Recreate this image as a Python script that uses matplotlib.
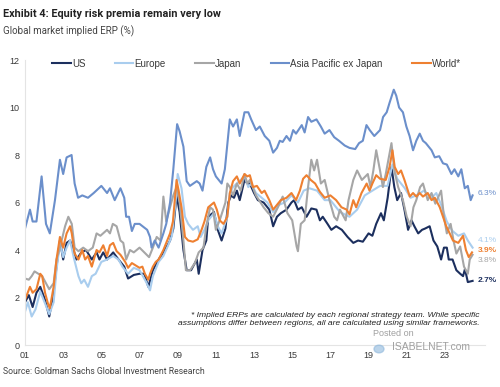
import matplotlib.pyplot as plt
from matplotlib.lines import Line2D

# Series: decimal year and implied ERP (%)
us_t = [2001.0, 2001.2, 2001.4, 2001.6, 2001.8, 2002.05, 2002.27, 2002.5, 2002.65, 2002.83,
        2003.0, 2003.18, 2003.36, 2003.5, 2003.7, 2003.95, 2004.2, 2004.5, 2004.75, 2004.9,
        2005.1, 2005.3, 2005.62, 2005.9, 2006.2, 2006.4, 2006.7, 2007.0, 2007.25, 2007.46,
        2007.7, 2008.0, 2008.25, 2008.4, 2008.6, 2008.77, 2008.94, 2009.1, 2009.3, 2009.47,
        2009.7, 2010.0, 2010.1, 2010.3, 2010.5, 2010.6, 2010.9, 2011.1, 2011.3, 2011.5,
        2011.65, 2011.8, 2011.95, 2012.1, 2012.25, 2012.5, 2012.65, 2012.78, 2013.0, 2013.2,
        2013.5, 2013.8, 2014.0, 2014.2, 2014.4, 2014.7, 2014.96, 2015.1, 2015.3, 2015.5,
        2015.75, 2016.0, 2016.27, 2016.45, 2016.6, 2016.85, 2017.05, 2017.3, 2017.6, 2017.9,
        2018.2, 2018.45, 2018.7, 2019.0, 2019.2, 2019.4, 2019.65, 2019.8, 2020.0, 2020.2,
        2020.35, 2020.5, 2020.7, 2020.88, 2021.07, 2021.25, 2021.4, 2021.6, 2021.8, 2021.95,
        2022.2, 2022.4, 2022.6, 2022.8, 2022.95, 2023.1, 2023.2, 2023.4, 2023.6, 2023.8,
        2023.95, 2024.05, 2024.2, 2024.45]
us_v = [1.8, 2.1, 1.6, 2.2, 2.45, 1.9, 1.2, 2.2, 3.3, 4.4,
        3.6, 4.3, 4.4, 4.1, 3.6, 3.9, 4.0, 3.6, 3.9, 3.6,
        3.9, 3.6, 3.9, 3.6, 3.3, 2.8, 2.95, 3.0, 3.0, 2.45,
        3.15, 3.6, 3.9, 4.1, 4.4, 4.9, 6.3, 5.6, 4.0, 3.15,
        3.15, 3.6, 3.0, 4.0, 4.4, 5.4, 5.6, 4.85, 4.4, 4.9,
        6.0, 6.3, 6.2, 6.5, 6.1, 6.95, 6.8, 6.8, 6.4, 6.1,
        6.0, 5.7, 5.0, 5.4, 5.55, 5.7, 6.0, 6.1, 5.7, 5.8,
        5.4, 5.75, 5.7, 5.25, 5.4, 5.1, 4.85, 5.0, 4.85, 4.55,
        4.3, 4.4, 4.35, 4.7, 4.6, 5.1, 5.55, 5.25, 6.2, 7.5,
        6.65, 6.1, 6.4, 5.7, 4.85, 5.25, 5.0, 4.7, 4.85, 4.9,
        5.0, 4.4, 4.15, 3.6, 4.1, 4.1, 3.6, 3.6, 3.15, 3.0,
        2.9, 3.2, 2.65, 2.7]

europe_t = [2001.0, 2001.15, 2001.35, 2001.55, 2001.8, 2002.05, 2002.27, 2002.5, 2002.65, 2002.83,
            2003.0, 2003.18, 2003.36, 2003.55, 2003.8, 2003.95, 2004.1, 2004.3, 2004.5, 2004.7,
            2005.0, 2005.3, 2005.62, 2005.9, 2006.1, 2006.4, 2006.7, 2007.0, 2007.35, 2007.55,
            2007.7, 2008.0, 2008.25, 2008.5, 2008.7, 2008.9, 2009.0, 2009.2, 2009.38, 2009.55,
            2009.8, 2010.05, 2010.2, 2010.4, 2010.6, 2010.9, 2011.1, 2011.3, 2011.6, 2011.73,
            2011.9, 2012.1, 2012.5, 2012.7, 2012.85, 2013.1, 2013.4, 2013.7, 2014.0, 2014.3,
            2014.6, 2014.96, 2015.3, 2015.6, 2015.9, 2016.3, 2016.7, 2017.0, 2017.5, 2018.0,
            2018.4, 2018.8, 2019.2, 2019.6, 2020.0, 2020.25, 2020.5, 2020.9, 2021.2, 2021.5,
            2021.9, 2022.3, 2022.55, 2022.8, 2023.1, 2023.4, 2023.7, 2024.0, 2024.2, 2024.45]
europe_v = [1.4, 1.8, 1.2, 1.5, 2.25, 1.75, 1.3, 1.8, 3.15, 4.3,
            3.7, 4.1, 4.4, 3.7, 2.9, 2.6, 2.75, 2.45, 2.9, 3.0,
            3.5, 3.6, 3.75, 3.6, 3.3, 3.0, 3.25, 3.15, 2.65, 2.3,
            2.9, 3.5, 3.75, 4.2, 4.6, 6.1, 7.2, 6.6, 5.4, 5.1,
            4.85, 5.0, 4.55, 4.85, 5.25, 5.55, 5.0, 4.7, 5.4, 6.4,
            6.65, 6.8, 7.1, 6.65, 6.8, 6.4, 6.2, 6.0, 5.6, 5.9,
            6.0, 6.3, 6.0, 6.5, 6.6, 6.5, 6.1, 6.1, 5.6, 5.4,
            5.7, 6.3, 6.5, 6.7, 6.7, 7.6, 7.0, 6.6, 6.2, 6.3,
            6.5, 6.2, 6.4, 5.9, 5.2, 4.8, 4.6, 4.7, 4.4, 4.1]

japan_t = [2001.0, 2001.2, 2001.35, 2001.5, 2001.7, 2001.9, 2002.1, 2002.27, 2002.5, 2002.65,
           2002.83, 2003.1, 2003.27, 2003.45, 2003.6, 2003.8, 2004.05, 2004.3, 2004.55, 2004.75,
           2004.95, 2005.3, 2005.45, 2005.6, 2005.8, 2006.0, 2006.15, 2006.3, 2006.5, 2006.7,
           2007.0, 2007.25, 2007.5, 2007.7, 2007.9, 2008.1, 2008.25, 2008.4, 2008.6, 2008.77,
           2008.94, 2009.1, 2009.3, 2009.43, 2009.65, 2009.9, 2010.1, 2010.35, 2010.5, 2010.7,
           2010.85, 2011.0, 2011.2, 2011.5, 2011.6, 2011.73, 2011.9, 2012.1, 2012.3, 2012.5,
           2012.65, 2012.78, 2013.1, 2013.5, 2013.75, 2014.0, 2014.25, 2014.5, 2014.75, 2015.0,
           2015.23, 2015.3, 2015.45, 2015.65, 2015.83, 2016.0, 2016.15, 2016.3, 2016.5, 2016.7,
           2016.95, 2017.2, 2017.35, 2017.5, 2017.8, 2017.95, 2018.2, 2018.4, 2018.65, 2018.96,
           2019.1, 2019.25, 2019.4, 2019.6, 2019.75, 2019.9, 2020.2, 2020.35, 2020.55, 2020.8,
           2021.0, 2021.2, 2021.35, 2021.5, 2021.7, 2021.85, 2022.1, 2022.3, 2022.5, 2022.8,
           2022.95, 2023.1, 2023.3, 2023.45, 2023.6, 2023.8, 2024.0, 2024.2, 2024.3, 2024.45]
japan_v = [2.8, 2.75, 2.9, 3.1, 3.0, 2.9, 2.6, 2.35, 2.6, 3.6,
           4.1, 5.0, 5.4, 5.1, 4.1, 3.95, 4.1, 3.95, 4.1, 4.7,
           4.6, 4.85, 4.7, 5.1, 5.0, 4.4, 4.3, 3.6, 4.0, 3.9,
           4.1, 3.9, 3.7, 4.1, 4.55, 4.4, 6.25, 5.2, 5.8, 6.3,
           6.65, 6.0, 4.4, 3.15, 3.15, 3.45, 3.9, 4.1, 5.0, 5.8,
           5.7, 4.85, 5.25, 6.0, 6.8, 6.65, 6.3, 6.8, 6.5, 7.2,
           6.8, 6.95, 6.3, 5.8, 5.55, 5.4, 5.8, 6.25, 5.55, 5.25,
           4.15, 3.95, 5.1, 5.25, 6.65, 7.8, 7.35, 7.8, 6.8, 6.95,
           6.1, 5.4, 5.25, 5.7, 5.25, 6.1, 6.95, 7.35, 6.95, 7.2,
           6.65, 7.35, 8.2, 7.35, 6.65, 7.2, 8.5, 7.35, 6.65, 6.1,
           5.4, 5.0, 5.8, 6.1, 6.65, 6.8, 6.1, 6.4, 5.95, 6.5,
           5.4, 4.7, 5.1, 4.4, 3.85, 4.15, 3.3, 3.0, 3.6, 3.8]

apxj_t = [2001.0, 2001.26, 2001.4, 2001.6, 2001.87, 2002.1, 2002.3, 2002.57, 2002.83, 2003.0,
          2003.18, 2003.44, 2003.6, 2003.78, 2004.0, 2004.3, 2004.6, 2005.0, 2005.3, 2005.45,
          2005.7, 2006.0, 2006.2, 2006.3, 2006.45, 2006.6, 2006.75, 2007.0, 2007.4, 2007.55,
          2007.63, 2007.8, 2008.0, 2008.25, 2008.4, 2008.6, 2008.77, 2008.97, 2009.1, 2009.3,
          2009.47, 2009.64, 2010.0, 2010.15, 2010.3, 2010.5, 2010.7, 2010.85, 2011.0, 2011.3,
          2011.47, 2011.73, 2011.9, 2012.1, 2012.25, 2012.5, 2012.7, 2012.85, 2013.1, 2013.3,
          2013.56, 2013.8, 2014.0, 2014.2, 2014.35, 2014.5, 2014.7, 2014.88, 2015.05, 2015.2,
          2015.5, 2015.65, 2015.83, 2016.0, 2016.27, 2016.5, 2016.7, 2016.95, 2017.2, 2017.45,
          2017.75, 2018.0, 2018.3, 2018.5, 2018.7, 2018.89, 2019.06, 2019.3, 2019.6, 2019.76,
          2019.95, 2020.1, 2020.32, 2020.45, 2020.6, 2020.8, 2020.98, 2021.15, 2021.33, 2021.5,
          2021.68, 2021.85, 2022.0, 2022.3, 2022.47, 2022.7, 2022.9, 2023.1, 2023.34, 2023.5,
          2023.7, 2023.86, 2024.04, 2024.2, 2024.35, 2024.45]
apxj_v = [4.9, 5.7, 5.2, 5.2, 7.1, 5.1, 4.7, 6.1, 7.8, 7.2,
          7.9, 8.0, 6.8, 6.2, 6.3, 6.2, 6.4, 6.7, 6.4, 6.6,
          6.1, 6.6, 6.2, 5.4, 5.4, 4.8, 5.1, 5.1, 4.85, 4.55,
          4.1, 4.4, 4.1, 4.7, 5.1, 6.0, 7.4, 9.3, 9.0, 8.35,
          6.9, 6.7, 6.9, 6.8, 6.5, 7.5, 7.9, 7.4, 7.1, 6.8,
          7.4, 9.5, 9.2, 9.5, 8.8, 9.8, 9.8, 9.5, 9.05, 9.2,
          8.8, 8.6, 8.1, 8.3, 8.6, 8.55, 8.8, 8.6, 9.05, 8.9,
          9.26, 8.95, 9.6, 9.4, 9.5, 9.2, 8.9, 9.05, 8.75, 8.6,
          8.4, 8.3, 8.25, 8.5, 8.6, 9.26, 9.05, 8.8, 9.05, 9.6,
          9.8, 10.2, 10.75, 10.5, 10.0, 9.8, 9.2, 8.8, 8.2, 8.6,
          8.9, 8.6, 8.5, 8.2, 7.9, 7.95, 7.65, 7.6, 7.2, 7.4,
          7.1, 7.4, 6.6, 6.7, 6.1, 6.3]

world_t = [2001.0, 2001.26, 2001.4, 2001.6, 2001.8, 2001.9, 2002.05, 2002.2, 2002.3, 2002.5,
           2002.65, 2002.83, 2003.0, 2003.18, 2003.36, 2003.45, 2003.6, 2003.8, 2004.0, 2004.15,
           2004.3, 2004.5, 2004.75, 2004.9, 2005.1, 2005.3, 2005.45, 2005.62, 2005.8, 2006.0,
           2006.25, 2006.4, 2006.6, 2007.0, 2007.15, 2007.28, 2007.46, 2007.55, 2007.7, 2007.85,
           2008.0, 2008.25, 2008.4, 2008.6, 2008.75, 2008.94, 2009.05, 2009.2, 2009.38, 2009.55,
           2009.8, 2010.05, 2010.25, 2010.4, 2010.6, 2010.9, 2011.05, 2011.2, 2011.4, 2011.6,
           2011.73, 2011.9, 2012.1, 2012.25, 2012.5, 2012.65, 2012.78, 2012.95, 2013.15, 2013.4,
           2013.55, 2013.8, 2014.0, 2014.2, 2014.4, 2014.7, 2014.96, 2015.2, 2015.4, 2015.57,
           2015.75, 2015.97, 2016.2, 2016.45, 2016.7, 2017.0, 2017.3, 2017.58, 2017.85, 2018.0,
           2018.2, 2018.35, 2018.63, 2018.9, 2019.05, 2019.2, 2019.4, 2019.6, 2019.9, 2020.1,
           2020.25, 2020.37, 2020.55, 2020.7, 2020.88, 2021.16, 2021.33, 2021.5, 2021.68, 2021.85,
           2022.1, 2022.3, 2022.47, 2022.73, 2022.9, 2023.07, 2023.25, 2023.42, 2023.7, 2023.95,
           2024.1, 2024.25, 2024.42]
world_v = [1.9, 2.45, 2.2, 2.35, 3.0, 2.9, 2.2, 1.75, 1.55, 2.45,
           3.6, 4.55, 4.1, 4.7, 5.0, 4.7, 3.85, 3.6, 4.0, 3.6,
           3.75, 3.3, 4.0, 3.9, 4.2, 3.75, 4.2, 4.3, 3.95, 3.8,
           3.5, 3.25, 3.45, 3.25, 3.3, 3.0, 2.75, 3.0, 3.3, 3.5,
           3.6, 4.0, 4.3, 4.7, 5.2, 6.95, 6.5, 5.8, 4.55, 4.4,
           4.35, 4.45, 4.85, 5.2, 5.8, 6.0, 5.7, 5.25, 5.1, 5.4,
           6.4, 6.9, 7.1, 6.8, 7.2, 7.1, 7.15, 6.65, 6.7, 6.4,
           6.5, 6.1, 5.7, 5.9, 6.1, 6.2, 6.4, 6.1, 6.5, 7.0,
           7.15, 6.95, 6.8, 6.45, 6.2, 6.3, 6.1, 5.8, 5.7, 5.5,
           6.1, 5.8, 6.4, 6.8, 6.5, 6.8, 7.15, 7.0, 6.95, 7.5,
           8.2, 7.5, 7.2, 7.35, 6.95, 6.25, 6.4, 6.25, 6.4, 6.25,
           6.4, 6.1, 6.2, 5.8, 5.4, 5.0, 4.7, 4.4, 4.3, 4.6,
           4.0, 3.7, 3.9]

series_names = ["US", "Europe", "Japan", "Asia Pacific ex Japan", "World*"]
end_labels = ["2.7%", "4.1%", "3.8%", "6.3%", "3.9%"]
x_tick_years = [2001, 2003, 2005, 2007, 2009, 2011, 2013, 2015, 2017, 2019, 2021, 2023]
x_tick_labels = ["01", "03", "05", "07", "09", "11", "13", "15", "17", "19", "21", "23"]
y_ticks = [0, 2, 4, 6, 8, 10, 12]

# Colours / styles
COLORS = ["#1c2f5e", "#a9cdee", "#a6a6a6", "#6b8fcb", "#ee8031"]
LABEL_Y = [2.72, 4.38, 3.55, 6.36, 3.96]   # vertical spots of the end labels
TEXT_DARK = "#3a3a3a"
NARROW = ["Liberation Sans Narrow", "Roboto", "DejaVu Sans"]
ARIAL = ["Liberation Sans", "DejaVu Sans"]


def main():
    fig = plt.figure(figsize=(5, 3.87), dpi=100)
    ax = fig.add_axes([0.05, 0.1085, 0.92, 0.7364])

    all_t = [us_t, europe_t, japan_t, apxj_t, world_t]
    all_v = [us_v, europe_v, japan_v, apxj_v, world_v]
    for t, v, c in zip(all_t, all_v, COLORS):
        ax.plot(t, v, color=c, linewidth=1.5, solid_joinstyle="round")

    ax.set_xlim(2001, 2025.1)
    ax.set_ylim(0, 12)
    ax.set_xticks(x_tick_years)
    ax.set_xticklabels(x_tick_labels, family=ARIAL, fontsize=6.5, color=TEXT_DARK)
    ax.set_yticks(y_ticks)
    ax.set_yticklabels([str(y) for y in y_ticks], family=ARIAL, fontsize=6.5, color=TEXT_DARK)
    ax.tick_params(length=0, pad=4)

    for side in ["top", "right"]:
        ax.spines[side].set_visible(False)
    ax.spines["left"].set_color("#e4e4e4")
    ax.spines["bottom"].set_color("#e4e4e4")
    ax.spines["left"].set_linewidth(0.8)
    ax.spines["bottom"].set_linewidth(0.8)

    # Legend across the top of the plot
    handles = [Line2D([0], [0], color=c, linewidth=1.5) for c in COLORS]
    ax.legend(handles, series_names, ncol=5, loc="upper left", bbox_to_anchor=(0.04, 1.035),
              frameon=False, handlelength=1.9, handletextpad=0.15, columnspacing=3.0,
              prop={"family": ARIAL, "size": 7}, labelcolor=TEXT_DARK)

    # End-of-series labels
    for lab, ly, c in zip(end_labels, LABEL_Y, COLORS):
        weight = "bold" if lab in ("2.7%", "3.9%") else "normal"
        ax.text(2024.72, ly, lab, color=c, fontsize=6, family=ARIAL, va="center",
                fontweight=weight, clip_on=False)

    # Footnote inside the plot
    ax.text(0.988, 0.091,
            "* Implied ERPs are calculated by each regional strategy team. While specific\n"
            "assumptions differ between regions, all are calculated using similar frameworks.",
            transform=ax.transAxes, ha="right", va="center", fontsize=6.1,
            style="italic", family=ARIAL, color="#222222", linespacing=1.2)

    # Watermark
    fig.text(0.746, 1 - 334 / 387, "Posted on", fontsize=6.5, family=ARIAL,
             color="#a0a0a0", va="center")
    fig.text(0.784, 1 - 347 / 387, "ISABELNET.com", fontsize=7.5, family=ARIAL,
             color="#a0a0a0", va="center")
    fig.patches.append(plt.Circle((379 / 500, 1 - 349 / 387), 0.010,
                                  transform=fig.transFigure, color="#8fb8dc", alpha=0.6))

    # Titles and source
    fig.text(0.006, 1 - 14 / 387, "Exhibit 4: Equity risk premia remain very low",
             fontsize=7.8, fontweight="bold", family=NARROW, color="#222222", va="center")
    fig.text(0.006, 1 - 31 / 387, "Global market implied ERP (%)",
             fontsize=7.0, family=NARROW, color="#444444", va="center")
    fig.text(0.006, 1 - 372 / 387, "Source: Goldman Sachs Global Investment Research",
             fontsize=6.2, family=NARROW, color="#444444", va="center")

    fig.savefig("out.png", dpi=100)
    plt.close(fig)


if __name__ == "__main__":
    main()
